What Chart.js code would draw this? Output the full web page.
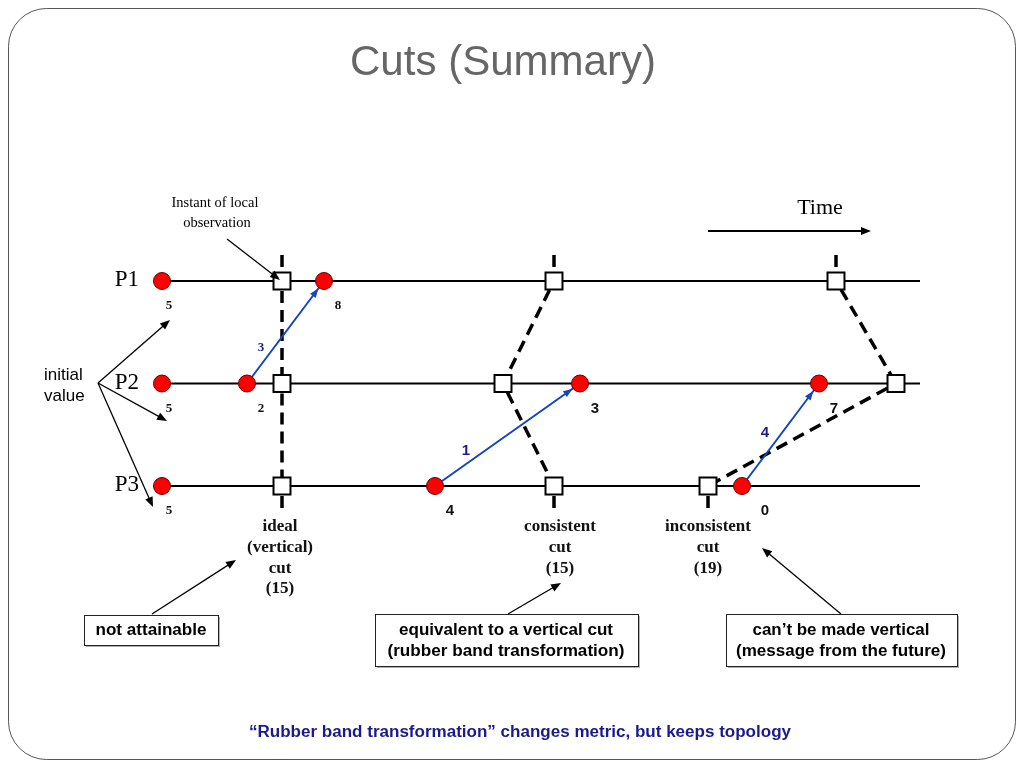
<!DOCTYPE html>
<html>
<head>
<meta charset="utf-8">
<script src="https://cdn.jsdelivr.net/npm/chart.js@4.4.1/dist/chart.umd.min.js"></script>
<style>
html,body{margin:0;padding:0;background:#fff;}
canvas{display:block;}
</style>
</head>
<body>
<canvas id="c" width="1024" height="768"></canvas>
<script>
// ---------------- DATA ----------------
const processes = ['P1', 'P2', 'P3'];
// time axis: arbitrary units along the process lines
const timeStart = 162;
const timeEnd = 920;

// local events (red dots): process index, time, local value
const eventProc  = [0, 0, 1, 1, 1, 1, 2, 2, 2];
const eventTime  = [162, 324, 162, 247, 580, 819, 162, 435, 742];
const eventValue = ['5', '8', '5', '2', '3', '7', '5', '4', '0'];

// messages (blue arrows): from (proc,time) to (proc,time), transferred amount
const msgFromProc = [1, 2, 2];
const msgFromTime = [247, 435, 742];
const msgToProc   = [0, 1, 1];
const msgToTime   = [324, 580, 819];
const msgLabel    = ['3', '1', '4'];

// cuts: observation instant on P1, P2, P3
const cutNames  = ['ideal', 'consistent', 'inconsistent'];
const cutTimes  = [[282, 282, 282], [554, 503, 554], [836, 896, 708]];
const cutLabels = [['ideal', '(vertical)', 'cut', '(15)'], ['consistent', 'cut', '(15)'], ['inconsistent', 'cut', '(19)']];

// ---------------- LAYOUT / STYLE ----------------
const layout = {
  valueDx: [7, 14, 7, 14, 15, 15, 7, 15, 23],
  valueDy: 25,
  valueSerif: [true, true, true, true, false, false, true, false, false],
  msgLabelDx: [14, 31, 23],
  msgLabelDy: [-36, -35, -53],
  msgSerif: [true, false, false],
  cutLabelX: [280, 560, 708],
  cutExtTop: -0.254,
  cutExtBottom: 2.215
};
const BLUE = '#1244c4';
const NAVY = '#1a1a8e';
const SERIF = '"Liberation Serif", "Times New Roman", serif';
const SANS = '"Liberation Sans", Arial, sans-serif';

// ---------------- DATASETS ----------------
const datasets = [];
datasets.push({
  label: 'events',
  data: eventTime.map((t, i) => ({x: t, y: eventProc[i]})),
  pointStyle: 'circle', pointRadius: 8.5, pointBackgroundColor: '#ff0000',
  pointBorderColor: '#6a0000', pointBorderWidth: 1, showLine: false, order: 0
});
const sq = [];
cutTimes.forEach(ct => ct.forEach((t, p) => sq.push({x: t, y: p})));
datasets.push({
  label: 'observations', data: sq,
  pointStyle: 'rect', pointRadius: 12, pointBackgroundColor: '#ffffff',
  pointBorderColor: '#000000', pointBorderWidth: 2, showLine: false, order: 1
});
msgFromTime.forEach((t, i) => {
  datasets.push({
    label: 'msg' + msgLabel[i],
    data: [{x: t, y: msgFromProc[i]}, {x: msgToTime[i], y: msgToProc[i]}],
    showLine: true, borderColor: BLUE, borderWidth: 2, pointRadius: 0, order: 2
  });
});
// each cut is drawn as consecutive dashed segments (top stub, P1-P2, P2-P3, bottom stub)
cutTimes.forEach((ct, i) => {
  const pts = [{x: ct[0], y: layout.cutExtTop}];
  ct.forEach((t, p) => pts.push({x: t, y: p}));
  pts.push({x: ct[2], y: layout.cutExtBottom});
  for (let k = 0; k < pts.length - 1; k++) {
    datasets.push({
      label: cutNames[i] + ' cut', data: [pts[k], pts[k + 1]], showLine: true,
      borderColor: '#000', borderWidth: 3.5, borderDash: [12, 7],
      borderDashOffset: k === 0 ? 0 : 9, borderCapStyle: 'butt',
      pointRadius: 0, order: 3
    });
  }
});
processes.forEach((p, i) => {
  datasets.push({
    label: p, data: [{x: timeStart, y: i}, {x: timeEnd, y: i}], showLine: true,
    borderColor: '#000', borderWidth: 2, pointRadius: 0, order: 4
  });
});

// ---------------- HELPERS ----------------
function arrowHead(ctx, x1, y1, x2, y2, color, len, w) {
  const a = Math.atan2(y2 - y1, x2 - x1);
  ctx.save();
  ctx.fillStyle = color;
  ctx.beginPath();
  ctx.moveTo(x2, y2);
  ctx.lineTo(x2 - len * Math.cos(a) + w / 2 * Math.sin(a), y2 - len * Math.sin(a) - w / 2 * Math.cos(a));
  ctx.lineTo(x2 - len * Math.cos(a) - w / 2 * Math.sin(a), y2 - len * Math.sin(a) + w / 2 * Math.cos(a));
  ctx.closePath();
  ctx.fill();
  ctx.restore();
}
function arrow(ctx, x1, y1, x2, y2, color, lw, len, w) {
  const a = Math.atan2(y2 - y1, x2 - x1);
  ctx.save();
  ctx.strokeStyle = color; ctx.lineWidth = lw;
  ctx.beginPath(); ctx.moveTo(x1, y1);
  ctx.lineTo(x2 - (len - 1) * Math.cos(a), y2 - (len - 1) * Math.sin(a));
  ctx.stroke();
  ctx.restore();
  arrowHead(ctx, x1, y1, x2, y2, color, len, w);
}
function txt(ctx, s, x, y, font, color, align) {
  ctx.save();
  ctx.font = font; ctx.fillStyle = color; ctx.textAlign = align || 'center'; ctx.textBaseline = 'middle';
  ctx.fillText(s, x, y);
  ctx.restore();
}
// centered text stretched/compressed horizontally to a given width
function fitText(ctx, s, x, y, font, color, targetW) {
  ctx.save();
  ctx.font = font; ctx.fillStyle = color; ctx.textAlign = 'center'; ctx.textBaseline = 'middle';
  const w = ctx.measureText(s).width;
  ctx.translate(x, y);
  ctx.scale(targetW / w, 1);
  ctx.fillText(s, 0, 0);
  ctx.restore();
}
function box(ctx, x, y, w, h) {
  ctx.save();
  ctx.fillStyle = 'rgba(0,0,0,0.3)';
  ctx.fillRect(x + 2, y + 2, w, h);
  ctx.fillStyle = '#fff'; ctx.fillRect(x, y, w, h);
  ctx.strokeStyle = '#222'; ctx.lineWidth = 1; ctx.strokeRect(x + 0.5, y + 0.5, w, h);
  ctx.restore();
}

const decor = {
  id: 'decor',
  beforeDatasetsDraw(chart) {
    const ctx = chart.ctx;
    ctx.save();
    ctx.strokeStyle = '#555'; ctx.lineWidth = 1;
    ctx.beginPath();
    ctx.roundRect(8.5, 8.5, 1007, 751, 38);
    ctx.stroke();
    ctx.restore();
    fitText(ctx, 'Cuts (Summary)', 503, 63, '42px ' + SANS, '#666666', 306);
  },
  afterDatasetsDraw(chart) {
    const ctx = chart.ctx;
    const X = v => chart.scales.x.getPixelForValue(v);
    const Y = v => chart.scales.y.getPixelForValue(v);
    // process names
    processes.forEach((p, i) => txt(ctx, p, 139, Y(i) - 1, '23px ' + SERIF, '#000', 'right'));
    // message arrowheads and labels
    msgFromTime.forEach((t, i) => {
      const x1 = X(t), y1 = Y(msgFromProc[i]), x2 = X(msgToTime[i]), y2 = Y(msgToProc[i]);
      const a = Math.atan2(y2 - y1, x2 - x1);
      const tx = x2 - 9.5 * Math.cos(a), ty = y2 - 9.5 * Math.sin(a);
      arrowHead(ctx, x1, y1, tx, ty, BLUE, 9, 7);
      const f = layout.msgSerif[i] ? 'bold 13px ' + SERIF : 'bold 15px ' + SANS;
      txt(ctx, msgLabel[i], x1 + layout.msgLabelDx[i], y1 + layout.msgLabelDy[i], f, NAVY);
    });
    // event values
    eventTime.forEach((t, i) => {
      const f = layout.valueSerif[i] ? 'bold 13px ' + SERIF : 'bold 15px ' + SANS;
      txt(ctx, eventValue[i], X(t) + layout.valueDx[i], Y(eventProc[i]) + layout.valueDy, f, '#111');
    });
    // cut labels
    cutLabels.forEach((lines, i) => {
      lines.forEach((s, k) => txt(ctx, s, layout.cutLabelX[i], 527 + k * 20.7, 'bold 17px ' + SERIF, '#111'));
    });
    // initial value
    txt(ctx, 'initial', 44, 375, '17px ' + SANS, '#000', 'left');
    txt(ctx, 'value', 44, 396, '17px ' + SANS, '#000', 'left');
    arrow(ctx, 98, 383, 170, 320, '#000', 1.3, 10, 8);
    arrow(ctx, 98, 383, 167, 421, '#000', 1.3, 10, 8);
    arrow(ctx, 98, 383, 153, 507, '#000', 1.3, 10, 8);
    // instant of local observation
    txt(ctx, 'Instant of local', 215, 203, '14.5px ' + SERIF, '#000');
    txt(ctx, 'observation', 217, 223, '14.5px ' + SERIF, '#000');
    arrow(ctx, 227, 239, 280, 280, '#000', 1.3, 10, 8);
    // time
    txt(ctx, 'Time', 820, 208, '22px ' + SERIF, '#000');
    arrow(ctx, 708, 231, 871, 231, '#000', 2, 10, 8);
    // boxes
    box(ctx, 84, 615, 134, 30);
    fitText(ctx, 'not attainable', 151, 631, 'bold 16px ' + SANS, '#000', 111);
    arrow(ctx, 152, 614, 236, 560, '#000', 1.3, 10, 8);
    box(ctx, 375, 614, 263, 52);
    fitText(ctx, 'equivalent to a vertical cut', 506, 631, 'bold 16px ' + SANS, '#000', 214);
    fitText(ctx, '(rubber band transformation)', 506, 652, 'bold 16px ' + SANS, '#000', 237);
    arrow(ctx, 508, 614, 561, 583, '#000', 1.3, 10, 8);
    box(ctx, 726, 614, 231, 52);
    fitText(ctx, 'can\u2019t be made vertical', 841, 631, 'bold 16px ' + SANS, '#000', 177);
    fitText(ctx, '(message from the future)', 841, 652, 'bold 16px ' + SANS, '#000', 210);
    arrow(ctx, 841, 614, 762, 548, '#000', 1.3, 10, 8);
    // footer
    fitText(ctx, '\u201cRubber band transformation\u201d changes metric, but keeps topology', 520, 733, 'bold 16px ' + SANS, NAVY, 542);
  }
};

new Chart(document.getElementById('c'), {
  type: 'scatter',
  data: {datasets},
  options: {
    responsive: false, animation: false, devicePixelRatio: 1,
    layout: {padding: 0, autoPadding: false},
    plugins: {legend: {display: false}, tooltip: {enabled: false}, title: {display: false}},
    scales: {
      x: {type: 'linear', min: 0, max: 1024, display: false},
      y: {type: 'linear', min: -2.7415, max: 4.7512, reverse: true, display: false}
    }
  },
  plugins: [decor]
});
</script>
</body>
</html>
